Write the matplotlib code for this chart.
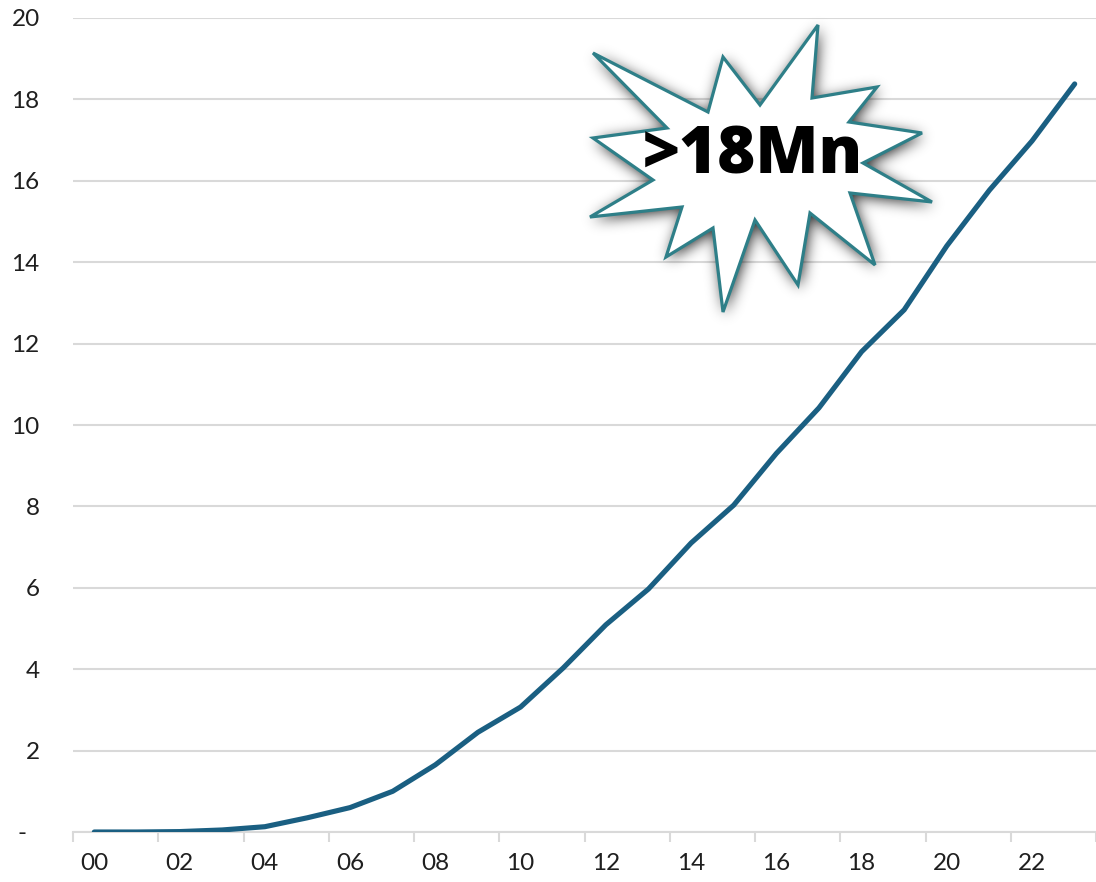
import numpy as np
import matplotlib
matplotlib.use("Agg")
import matplotlib.pyplot as plt
from matplotlib.path import Path
from matplotlib.patches import Polygon

# yearly totals, millions (2000 - 2023)
years = ["00", "01", "02", "03", "04", "05", "06", "07", "08", "09", "10", "11",
         "12", "13", "14", "15", "16", "17", "18", "19", "20", "21", "22", "23"]
totals = [0.0, 0.0, 0.01, 0.05, 0.13, 0.35, 0.6, 1.0, 1.65, 2.45, 3.07, 4.03,
          5.09, 5.97, 7.1, 8.03, 9.3, 10.42, 11.8, 12.83, 14.4, 15.77, 16.98, 18.38]
y_ticks = [0, 2, 4, 6, 8, 10, 12, 14, 16, 18, 20]
y_labels = ["-  ", "2", "4", "6", "8", "10", "12", "14", "16", "18", "20"]
callout = ">18Mn"

W, H = 1096, 882
fig = plt.figure(figsize=(W / 100, H / 100), dpi=100)
ax = fig.add_axes([73 / W, 1 - 832 / H, 1 - 73 / W, (832 - 18) / H])

x = np.arange(len(years))
ax.plot(x, totals, color="#1a5f82", lw=3.7, solid_capstyle="round", zorder=3)

ax.set_xlim(-0.5, len(years) - 0.5)
ax.set_ylim(0, 20)
ax.set_yticks(y_ticks)
ax.set_yticklabels(y_labels)
ax.set_xticks(x[::2])
ax.set_xticklabels(years[::2])
ax.set_xticks(np.arange(-0.5, len(years), 2), minor=True)

grid_c = "#d9d9d9"
ax.grid(axis="y", color=grid_c, lw=1.5)
ax.set_axisbelow(True)
for s in ["top", "right", "left"]:
    ax.spines[s].set_visible(False)
ax.spines["bottom"].set_color(grid_c)
ax.spines["bottom"].set_linewidth(1.5)

lab_font = dict(family="Lato", size=17.5, color="#1f1f1f")
ax.tick_params(axis="y", length=0, pad=24)
ax.tick_params(axis="x", which="major", length=0, pad=15)
ax.tick_params(axis="x", which="minor", length=7, width=1.5, color=grid_c)
for t in ax.get_xticklabels() + ax.get_yticklabels():
    t.set_fontfamily(lab_font["family"])
    t.set_fontsize(lab_font["size"])
    t.set_color(lab_font["color"])

# starburst callout, drawn in pixel space on an overlay
ov = fig.add_axes([0, 0, 1, 1], zorder=5)
ov.set_xlim(0, W)
ov.set_ylim(H, 0)
ov.axis("off")

burst = np.array([
    (818, 25), (812, 98), (877, 87), (849, 122), (922, 133), (863, 163),
    (932, 202), (850, 193), (875, 265), (810, 213), (798, 285), (755, 220),
    (723, 312), (713, 228), (666, 257), (682, 207), (590, 217), (653, 180),
    (593, 138), (667, 128), (593, 53), (708, 112), (723, 57), (760, 105),
])

# soft drop shadow: rasterise the outline, blur it, paint it behind the shape
x0, x1, y0, y1 = 550, 975, 0, 340
gx, gy = np.meshgrid(np.arange(x0, x1) + 0.5, np.arange(y0, y1) + 0.5)
mask = Path(burst).contains_points(np.c_[gx.ravel(), gy.ravel()]).reshape(gx.shape).astype(float)
k = np.arange(-20, 21)
g = np.exp(-k ** 2 / (2 * 7.0 ** 2))
g /= g.sum()
blur = np.apply_along_axis(lambda r: np.convolve(r, g, mode="same"), 1, mask)
blur = np.apply_along_axis(lambda c: np.convolve(c, g, mode="same"), 0, blur)
shadow = np.zeros(blur.shape + (4,))
shadow[..., 3] = np.clip(blur * 0.85, 0, 1)
ov.imshow(shadow, extent=(x0 + 2, x1 + 2, y1 + 3, y0 + 3), origin="upper",
          aspect="auto", interpolation="bilinear", zorder=1)
ov.set_xlim(0, W)
ov.set_ylim(H, 0)

ov.add_patch(Polygon(burst, closed=True, facecolor="white", edgecolor="#2e7f88",
                     lw=2.3, joinstyle="miter", zorder=2))
ov.text(753, 157, callout, ha="center", va="center", fontsize=47,
        fontfamily="Open Sans", fontweight="heavy", color="black", zorder=3)

fig.savefig("out.png", dpi=100)
